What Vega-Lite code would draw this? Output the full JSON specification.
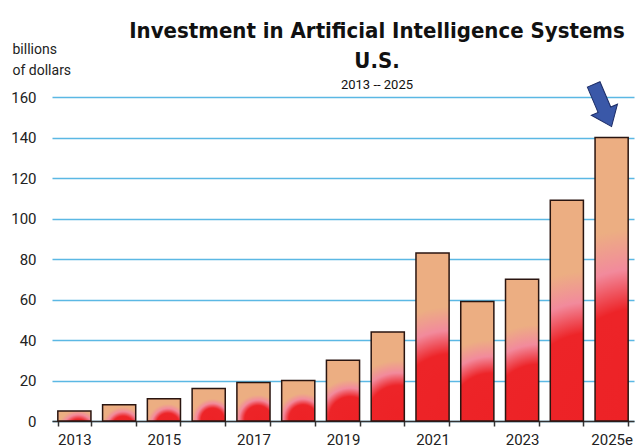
{
  "$schema": "https://vega.github.io/schema/vega-lite/v6.json",
  "width": 582,
  "height": 324,
  "autosize": "none",
  "padding": {"left": 52, "top": 97, "right": 2, "bottom": 27},
  "background": "white",
  "config": {
    "view": {"stroke": null},
    "font": "'Liberation Sans Narrow', 'Arial Narrow', Roboto, sans-serif"
  },
  "title": {
    "text": ["Investment in Artificial Intelligence Systems", "U.S."],
    "subtitle": "2013 -- 2025",
    "anchor": "middle",
    "dx": 34,
    "dy": 57,
    "font": "'DejaVu Sans Condensed', Roboto, sans-serif",
    "fontSize": 22,
    "fontWeight": "bold",
    "color": "#111111",
    "lineHeight": 30,
    "subtitleFont": "Roboto, sans-serif",
    "subtitleFontSize": 13,
    "subtitleColor": "#111111",
    "subtitlePadding": 6,
    "offset": 6
  },
  "data": {
    "values": [
      {"year": "2013", "value": 5},
      {"year": "2014", "value": 8},
      {"year": "2015", "value": 11},
      {"year": "2016", "value": 16},
      {"year": "2017", "value": 19},
      {"year": "2018", "value": 20},
      {"year": "2019", "value": 30},
      {"year": "2020", "value": 44},
      {"year": "2021", "value": 83},
      {"year": "2022", "value": 59},
      {"year": "2023", "value": 70},
      {"year": "2024", "value": 109},
      {"year": "2025e", "value": 140}
    ]
  },
  "encoding": {
    "x": {
      "field": "year",
      "type": "ordinal",
      "sort": null,
      "scale": {"paddingInner": 0.26, "paddingOuter": 0.13},
      "axis": {
        "title": null,
        "labelAngle": 0,
        "labelFontSize": 15,
        "labelColor": "#222222",
        "labelPadding": 6,
        "labelExpr": "indexof(['2013','2015','2017','2019','2021','2023','2025e'], datum.label) >= 0 ? datum.label : ''",
        "tickBand": "extent",
        "tickSize": 5,
        "tickColor": "#333333",
        "tickWidth": 1.5,
        "domainColor": "#333333",
        "domainWidth": 1.5,
        "grid": false
      }
    },
    "y": {
      "field": "value",
      "type": "quantitative",
      "scale": {"domain": [0, 160], "nice": false},
      "axis": {
        "values": [0, 20, 40, 60, 80, 100, 120, 140, 160],
        "title": ["billions", "of dollars"],
        "titleAngle": 0,
        "titleAlign": "left",
        "titleBaseline": "alphabetic",
        "titleX": -40,
        "titleY": -44,
        "titleFontSize": 14,
        "titleFontWeight": "normal",
        "titleColor": "#222222",
        "titleLineHeight": 21,
        "labelFontSize": 15,
        "labelColor": "#222222",
        "labelPadding": 16,
        "ticks": false,
        "domain": false,
        "grid": true,
        "gridColor": "#5bb8e4",
        "gridWidth": 1.5
      }
    }
  },
  "layer": [
    {
      "mark": {
        "type": "bar",
        "stroke": "#2a1510",
        "strokeWidth": 1.5,
        "fill": {
          "gradient": "radial",
          "x1": 0.62, "y1": 0.95, "r1": 0,
          "x2": 0.62, "y2": 0.95, "r2": 0.7,
          "stops": [
            {"offset": 0, "color": "#ed2226"},
            {"offset": 0.5, "color": "#ed2428"},
            {"offset": 0.7, "color": "#f28a9c"},
            {"offset": 0.9, "color": "#ecae82"},
            {"offset": 1, "color": "#ecae82"}
          ]
        }
      }
    },
    {
      "transform": [{"filter": "datum.year == '2025e'"}],
      "mark": {
        "type": "point",
        "shape": "M-0.3,-1 L0.3,-1 L0.3,0.2 L0.62,0.2 L0,1 L-0.62,0.2 L-0.3,0.2 Z",
        "size": 2100,
        "angle": -23,
        "filled": true,
        "fill": "#3a58a8",
        "stroke": "#1c2c66",
        "strokeWidth": 1,
        "opacity": 1,
        "xOffset": -9,
        "yOffset": -32
      }
    }
  ]
}
